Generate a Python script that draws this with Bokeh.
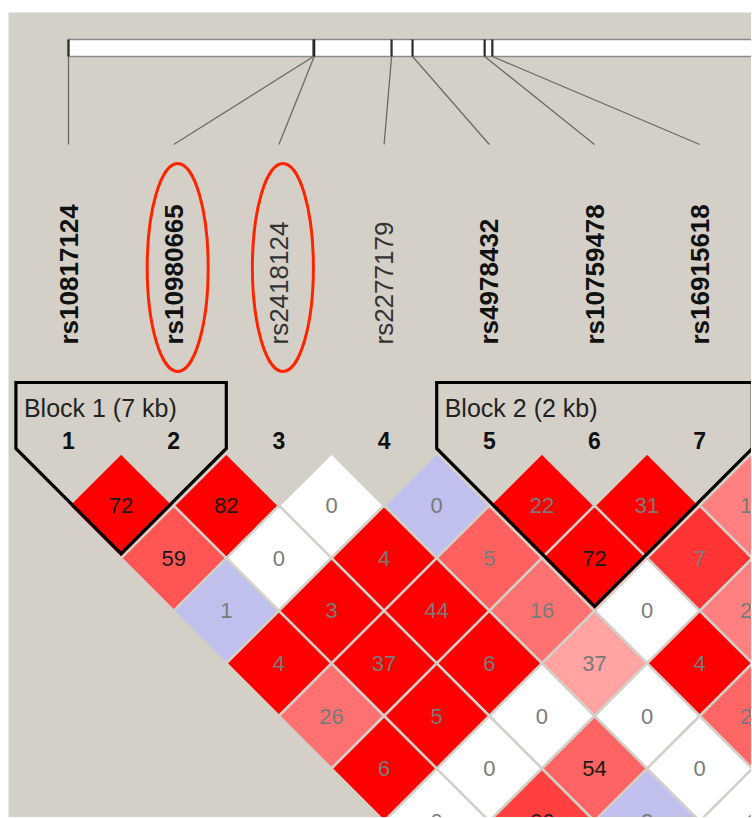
import math
from bokeh.plotting import figure
from bokeh.models import Range1d, ColumnDataSource
from bokeh.core.properties import value
from bokeh.embed import file_html
from bokeh.resources import INLINE

# ---------------- data ----------------
marker_names = ["rs10817124", "rs10980665", "rs2418124", "rs2277179",
                "rs4978432", "rs10759478", "rs16915618"]
marker_bold = [True, True, False, False, True, True, True]
# physical position (kb from first marker)
marker_kb = [0.0, 7.0, 7.02, 9.23, 9.83, 11.89, 12.11]
n_markers = 11  # markers beyond 7 fall outside the view

# LD values per diagonal distance d (pairs (i, i+d), i = 1..)
ld_rows = {
    1: [72, 82, 0, 0, 22, 31, 13],
    2: [59, 0, 4, 5, 72, 7],
    3: [1, 3, 44, 16, 0, 24],
    4: [4, 37, 6, 37, 4],
    5: [26, 5, 0, 0, 21],
    6: [6, 0, 54, 0],
    7: [0, 66, 3, 1],
}
ld_colors = {
    1: ["#FF0000", "#FF0000", "#FFFFFF", "#C0C0EE", "#FF0000", "#FF0000", "#FF8080"],
    2: ["#FF5555", "#FFFFFF", "#FF0000", "#FF6060", "#FF0000", "#FF3535"],
    3: ["#C0C0EE", "#FF0000", "#FF0000", "#FF7272", "#FFFFFF", "#FF8080"],
    4: ["#FF0000", "#FF0000", "#FF0000", "#FFA3A3", "#FF0000"],
    5: ["#FF7070", "#FF0000", "#FFFFFF", "#FFFFFF", "#FF6666"],
    6: ["#FF0000", "#FFFFFF", "#FF6464", "#FFFFFF"],
    7: ["#FFFFFF", "#FF4040", "#C0C0EE", "#FFFFFF"],
}
ld_strong = {
    1: [1, 1, 0, 0, 0, 0, 0],
    2: [1, 0, 0, 0, 1, 0],
    3: [0, 0, 0, 0, 0, 0],
    4: [0, 0, 0, 0, 0],
    5: [0, 0, 0, 0, 0],
    6: [0, 0, 1, 0],
    7: [0, 1, 0, 0],
}
blocks = [(1, 2, "Block 1 (7 kb)"), (5, 7, "Block 2 (2 kb)")]
highlighted = [2, 3]

# ---------------- layout ----------------
BG = "#D4D0C8"
X0, S = 69.0, 105.2
H = S / 2
TOP = 453.5
BAR_TOP, BAR_BOT = 40, 57
PX_PER_KB = 35.0
LINE_END = 145
NAME_Y = 345
NUM_Y = 441
BOX_TOP, BOX_MID = 383, 449

col_x = [X0 + i * S for i in range(n_markers)]
phys_x = [X0 + kb * PX_PER_KB for kb in marker_kb]

p = figure(width=751, height=817, x_range=Range1d(9, 752), y_range=Range1d(818, 13),
           output_backend="svg", toolbar_location=None,
           x_axis_location=None, y_axis_location=None,
           min_border_left=8, min_border_top=12, min_border_right=0, min_border_bottom=0,
           background_fill_color=BG, border_fill_color="white")
p.grid.visible = False
p.outline_line_color = None

# physical map bar
p.quad(left=phys_x[0], right=800, top=BAR_TOP, bottom=BAR_BOT,
       fill_color="white", line_color="#8A8A8A", line_width=1.5)
p.segment(x0=phys_x, y0=[BAR_TOP] * 7, x1=phys_x, y1=[BAR_BOT] * 7,
          line_color="#2A2A2A", line_width=2.2)
p.segment(x0=phys_x, y0=[BAR_BOT] * 7, x1=col_x[:7], y1=[LINE_END] * 7,
          line_color="#6A6A6A", line_width=1.3)

# marker names
for bold in (True, False):
    idx = [k for k in range(7) if marker_bold[k] == bold]
    p.text(x=[col_x[k] for k in idx], y=[NAME_Y] * len(idx),
           text=[marker_names[k] for k in idx], angle=math.pi / 2,
           text_align="left", text_baseline="middle",
           text_font=value("Liberation Sans"), text_font_size="26px",
           text_font_style="bold" if bold else "normal",
           text_color="#111111" if bold else "#333333")

# highlight ellipses
p.ellipse(x=[col_x[k - 1] + 4 for k in highlighted], y=[268] * len(highlighted),
          width=61, height=208, fill_color=None, line_color="#FF2400", line_width=3)

# marker numbers
p.text(x=col_x[:7], y=[NUM_Y] * 7, text=[str(k + 1) for k in range(7)],
       text_align="center", text_baseline="middle",
       text_font=value("Liberation Sans"), text_font_size="23px",
       text_font_style="bold", text_color="#111111")

# LD diamonds
xs, ys, fills, cxs, cys, labels, tcols = [], [], [], [], [], [], []
for d, vals in ld_rows.items():
    for k, v in enumerate(vals):
        i, j = k, k + d
        cx = (col_x[i] + col_x[j]) / 2
        cy = TOP + d * H
        xs.append([cx, cx + H, cx, cx - H])
        ys.append([cy - H, cy, cy + H, cy])
        fills.append(ld_colors[d][k])
        cxs.append(cx)
        cys.append(cy)
        labels.append(str(v))
        tcols.append("#1A1A1A" if ld_strong[d][k] else "#7A7A7A")
src = ColumnDataSource(dict(xs=xs, ys=ys, fill=fills, cx=cxs, cy=cys, label=labels, tc=tcols))
p.patches(xs="xs", ys="ys", fill_color="fill", line_color=BG, line_width=2.5, source=src)
p.text(x="cx", y="cy", text="label", text_color="tc", source=src,
       text_align="center", text_baseline="middle",
       text_font=value("Liberation Sans"), text_font_size="22px")

# block outlines
for a, b, label in blocks:
    xl = col_x[a - 1] - H
    xr = col_x[b - 1] + H
    xm = (col_x[a - 1] + col_x[b - 1]) / 2
    vy = BOX_MID + (col_x[b - 1] - col_x[a - 1]) / 2 + H
    p.patch(x=[xl, xr, xr, xm, xl], y=[BOX_TOP, BOX_TOP, BOX_MID, vy, BOX_MID],
            fill_color=None, line_color="black", line_width=3.2, line_join="miter")
    p.text(x=[xl + 8], y=[408], text=[label], text_align="left", text_baseline="middle",
           text_font=value("Liberation Sans"), text_font_size="25px", text_color="#222222")

open("out.html", "w").write(file_html(p, INLINE))
